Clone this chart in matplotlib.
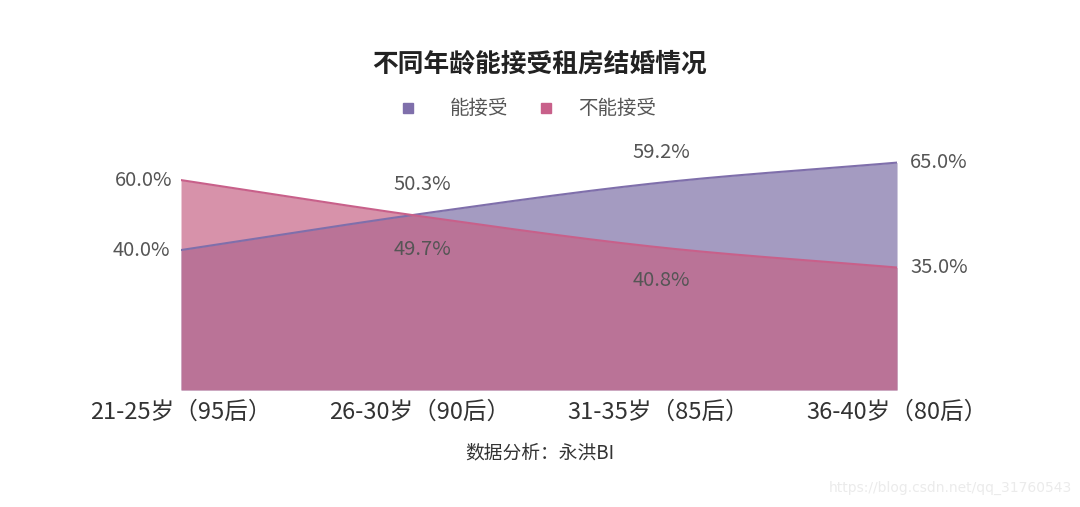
import matplotlib
matplotlib.use("Agg")
import matplotlib.pyplot as plt
from matplotlib.lines import Line2D
import numpy as np

plt.rcParams['font.family'] = ['Noto Sans CJK SC', 'DejaVu Sans']

categories = ["21-25岁（95后）", "26-30岁（90后）", "31-35岁（85后）", "36-40岁（80后）"]
accept = [40.0, 50.3, 59.2, 65.0]
reject = [60.0, 49.7, 40.8, 35.0]
series_names = ["能接受", "不能接受"]

purple_fill = "#a49bc1"
purple_line = "#7f6fab"
pink_fill = "#c56284"
pink_line = "#c8608a"
text_grey = "#555555"
W, H = 1080, 507


def smooth(y, n=60):
    # cubic hermite through the points, catmull-rom tangents
    y = np.asarray(y, dtype=float)
    x = np.arange(len(y))
    m = np.gradient(y)
    xs, ys = [], []
    for i in range(len(y) - 1):
        t = np.linspace(0, 1, n)
        h00 = 2*t**3 - 3*t**2 + 1
        h10 = t**3 - 2*t**2 + t
        h01 = -2*t**3 + 3*t**2
        h11 = t**3 - t**2
        xs.append(x[i] + t)
        ys.append(h00*y[i] + h10*m[i] + h01*y[i+1] + h11*m[i+1])
    return np.concatenate(xs), np.concatenate(ys)


fig = plt.figure(figsize=(10.8, 5.07), dpi=100)
ax = fig.add_axes([0.1676, 0.2308, 0.663, 0.483])

xa, ya = smooth(accept)
xr, yr = smooth(reject)
ax.fill_between(xa, 0, ya, color=purple_fill, lw=0)
ax.plot(xa, ya, color=purple_line, lw=1.5)
ax.fill_between(xr, 0, yr, color=pink_fill, alpha=0.69, lw=0)
ax.plot(xr, yr, color=pink_line, lw=1.5)

ax.set_xlim(0, len(categories) - 1)
ax.set_ylim(0, 70)
ax.set_xticks(range(len(categories)))
ax.set_xticklabels(categories, fontsize=17, color="#333333")
ax.tick_params(axis='x', length=0, pad=8)
ax.set_yticks([])
for s in ax.spines.values():
    s.set_visible(False)

# data labels
fs = 14.5
for i, v in enumerate(accept):
    lab = f"{v:.1f}%"
    if i == 0:
        ax.annotate(lab, (i, v), xytext=(-11, 0), textcoords='offset pixels',
                    ha='right', va='center', fontsize=fs, color=text_grey)
    elif i == len(accept) - 1:
        ax.annotate(lab, (i, v), xytext=(13, 0), textcoords='offset pixels',
                    ha='left', va='center', fontsize=fs, color=text_grey)
    else:
        ax.annotate(lab, (i, v), xytext=(3, 30), textcoords='offset pixels',
                    ha='center', va='center', fontsize=fs, color=text_grey)
for i, v in enumerate(reject):
    lab = f"{v:.1f}%"
    if i == 0:
        ax.annotate(lab, (i, v), xytext=(-9, 0), textcoords='offset pixels',
                    ha='right', va='center', fontsize=fs, color=text_grey)
    elif i == len(reject) - 1:
        ax.annotate(lab, (i, v), xytext=(13, 0), textcoords='offset pixels',
                    ha='left', va='center', fontsize=fs, color=text_grey)
    else:
        ax.annotate(lab, (i, v), xytext=(3, -33), textcoords='offset pixels',
                    ha='center', va='center', fontsize=fs, color=text_grey)

fig.text(0.5, 1 - 64/H, "不同年龄能接受租房结婚情况", ha='center', va='center',
         fontsize=18.5, fontweight='bold', color="#222222")

# legend drawn by hand: square + label
legend_y = 1 - 108/H
for name, col, sx, tx in [(series_names[0], purple_line, 408, 450),
                          (series_names[1], pink_line, 546, 578)]:
    fig.add_artist(Line2D([sx/W], [legend_y], ls='none', marker='s', markersize=7,
                          color=col, transform=fig.transFigure))
    fig.text(tx/W, legend_y, name, ha='left', va='center', fontsize=14, color=text_grey)

fig.text(0.5, 1 - 453/H, "数据分析：永洪BI", ha='center', va='center',
         fontsize=13.5, color="#333333")
fig.text(0.993, 1 - 488/H, "https://blog.csdn.net/qq_31760543", ha='right', va='center',
         fontsize=10, color="#ebebeb", family=['DejaVu Sans'])

fig.savefig("out.png", dpi=100)
